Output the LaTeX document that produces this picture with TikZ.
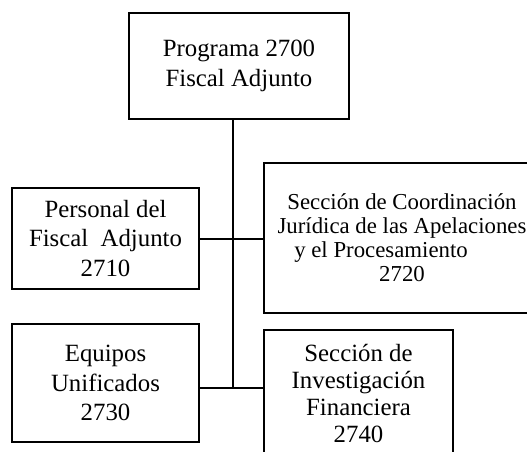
\documentclass[tikz,border=0pt]{standalone}
\usepackage{fontspec}
\setmainfont{Liberation Serif}
\begin{document}
\begin{tikzpicture}[x=1pt,y=-1pt,
  box/.style={draw=black,line width=1.3pt,inner sep=0pt,align=center,
    font=\fontsize{24.8}{29.5}\selectfont},
  conn/.style={draw=black,line width=1.1pt}]
\useasboundingbox (0,0) rectangle (527,451);
\clip (0,0) rectangle (527,451);
\fill[white] (0,0) rectangle (527,451);
\node[box,minimum width=220pt,minimum height=106pt] (top) at (239,66) {Programa 2700\\Fiscal Adjunto};
\node[box,minimum width=187pt,minimum height=101pt] (per) at (105.5,238.5) {Personal del\\Fiscal\ \ Adjunto\\2710};
\node[box,minimum width=276pt,minimum height=150pt,font=\fontsize{22.8}{24}\selectfont] (sec) at (402,238) {Sección de Coordinación\\Jurídica de las Apelaciones\\y el Procesamiento\hspace{42pt}\mbox{}\\2720};
\node[box,minimum width=187pt,minimum height=118pt] (equ) at (105.5,383) {Equipos\\Unificados\\2730};
\node[box,minimum width=189pt,minimum height=126pt,font=\fontsize{24.8}{27}\selectfont] (inv) at (358.5,393) {Sección de\\Investigación\\Financiera\\2740};
\coordinate (j1) at (233,239);
\coordinate (j2) at (233,388);
\draw[conn] (top.south -| j1) -- (j2);
\draw[conn] (per.east |- j1) -- (sec.west |- j1);
\draw[conn] (equ.east |- j2) -- (inv.west |- j2);
\end{tikzpicture}
\end{document}
